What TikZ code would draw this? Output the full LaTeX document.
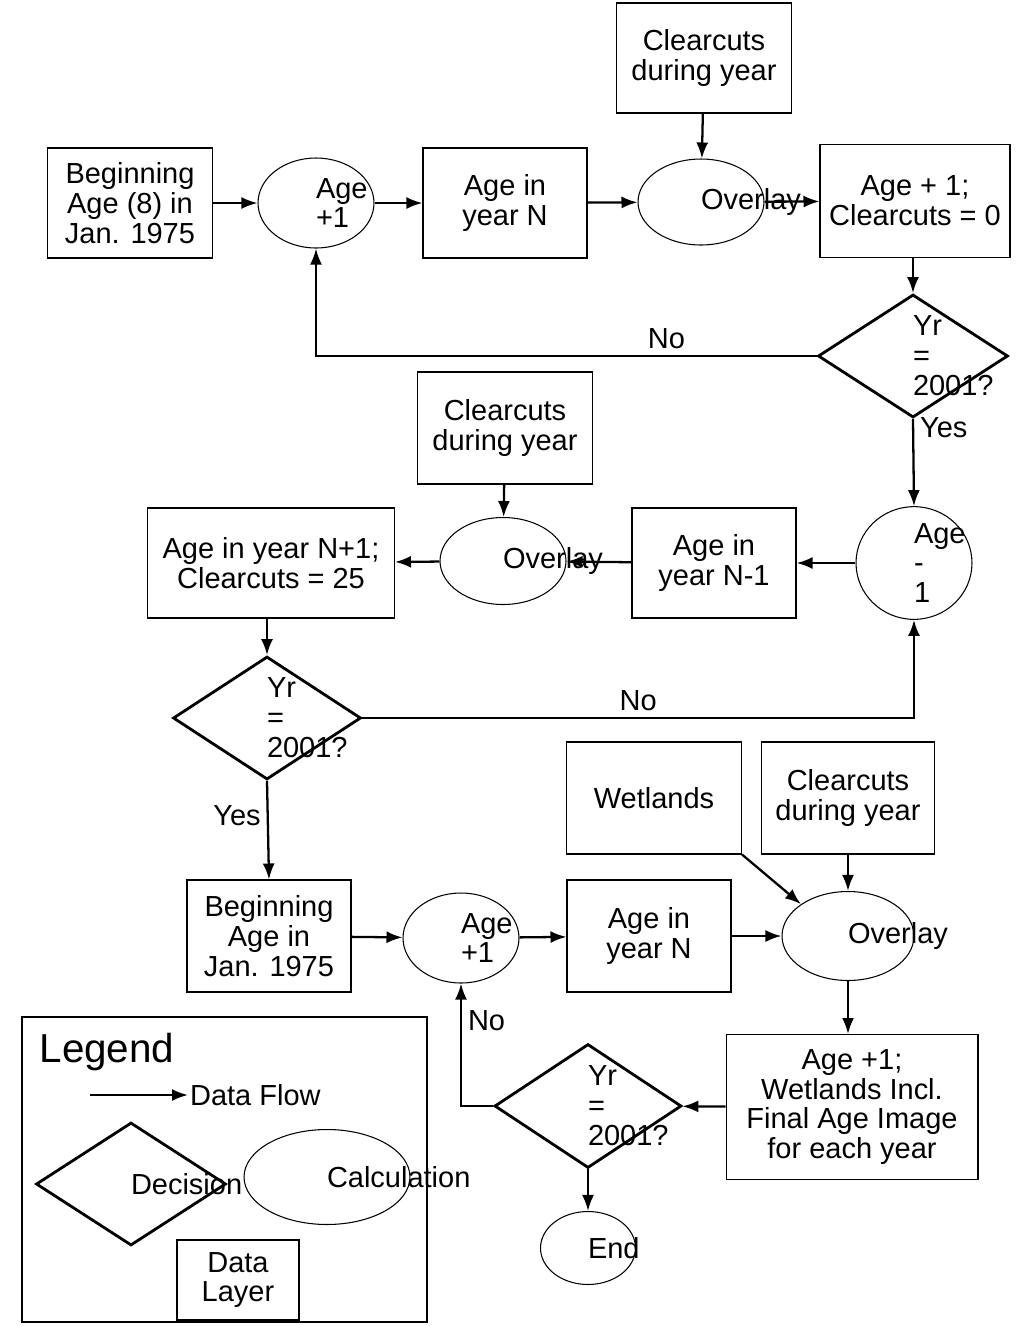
\documentclass[tikz,border=0pt]{standalone}
\usepackage{fontspec}
\setmainfont{Liberation Sans}
\usetikzlibrary{shapes.geometric,arrows.meta}
\begin{document}
\begin{tikzpicture}[x=0.02cm,y=-0.02cm,
font=\fontsize{16.5}{17}\selectfont,
flow/.style={line width=1.3pt, -{Latex[length=3.2mm,width=2.4mm]}},
layer/.style={rectangle, draw, line width=0.6pt, align=center, inner sep=0pt},
calc/.style={ellipse, draw, line width=0.6pt, align=center, text width=0pt, inner sep=0pt, minimum width=2.32cm, minimum height=1.8cm},
decision/.style={diamond, draw, line width=1.6pt, align=center, text width=0pt, inner sep=0pt, minimum width=3.8cm, minimum height=2.46cm},
]
\useasboundingbox (0,0) rectangle (1017,1326);
%Nodes
\node[layer, minimum width=3.5cm, minimum height=2.2cm] (clear1) at (704,58) {Clearcuts\\during year};
\node[layer, minimum width=3.3cm, minimum height=2.2cm] (begin1) at (130,203) {Beginning\\Age (8) in\\Jan. 1975};
\node[calc] (age1) at (316,203) {Age\\+1};
\node[layer, minimum width=3.28cm, minimum height=2.2cm] (year1) at (505,203) {Age in\\year N};
\node[calc, minimum width=2.52cm, minimum height=1.72cm] (over1) at (701,202) {Overlay};
\node[layer, minimum width=3.8cm, minimum height=2.26cm] (next1) at (915,201) {Age + 1;\\Clearcuts = 0};
\node[decision] (dec1) at (913,356) {Yr =\\2001?};
\node[layer, minimum width=3.5cm, minimum height=2.24cm] (clear2) at (505,428) {Clearcuts\\during year};
\node[calc] (back2) at (914,563) {Age\\-1};
\node[layer, minimum width=3.28cm, minimum height=2.2cm] (year2) at (714,563) {Age in\\year N-1};
\node[calc, minimum width=2.52cm, minimum height=1.74cm] (over2) at (503,561) {Overlay};
\node[layer, minimum width=4.94cm, minimum height=2.2cm] (next2) at (271,563) {Age in year N+1;\\Clearcuts = 25};
\node[decision, minimum width=3.76cm] (dec2) at (267,718) {Yr =\\2001?};
\node[layer, minimum width=3.5cm, minimum height=2.24cm] (wet) at (654,798) {Wetlands};
\node[layer, minimum width=3.46cm, minimum height=2.24cm] (clear3) at (848,798) {Clearcuts\\during year};
\node[layer, minimum width=3.28cm, minimum height=2.24cm] (begin3) at (269,936) {Beginning\\Age in\\Jan. 1975};
\node[calc] (age3) at (461,938) {Age\\+1};
\node[layer, minimum width=3.28cm, minimum height=2.24cm] (year3) at (649,936) {Age in\\year N};
\node[calc, minimum width=2.64cm, minimum height=1.78cm] (over3) at (848,936) {Overlay};
\node[layer, minimum width=5.04cm, minimum height=2.9cm] (final) at (852,1107) {Age +1;\\Wetlands Incl.\\Final Age Image\\for each year};
\node[decision, minimum width=3.74cm, minimum height=2.48cm] (dec3) at (588,1106) {Yr =\\2001?};
\node[calc, minimum width=1.9cm, minimum height=1.46cm] (end) at (588,1248) {End};
%Legend
\node[draw, line width=1.6pt, minimum width=8.1cm, minimum height=6.1cm] (legend) at (224.5,1169.5) {};
\node[font=\fontsize{23}{26}\selectfont] (legtitle) at (107,1052) {Legend};
\coordinate (flowA) at (90,1095);
\coordinate (flowB) at (188,1095);
\node[anchor=west, inner sep=1pt] (legflow) at (flowB) {Data Flow};
\node[decision] (legdec) at (131,1184) {Decision};
\node[calc, minimum width=3.32cm, minimum height=1.9cm] (legcalc) at (327,1177) {Calculation};
\node[layer, minimum width=2.44cm, minimum height=1.6cm] (leglayer) at (238,1280) {Data\\Layer};
%Lines
\draw[flow] (flowA) -- (flowB);
\draw[flow] (clear1) -- (over1);
\draw[flow] (begin1) -- (age1);
\draw[flow] (age1) -- (year1);
\draw[flow] (year1) -- (over1);
\draw[flow] (over1) -- (next1);
\draw[flow] (next1.south -| dec1.north) -- (dec1.north);
\draw[flow] (dec1.west) -- node[above, pos=0.3] {No} (dec1.west -| age1.south) -- (age1.south);
\draw[flow] (dec1.south) -- node[right, pos=0.1] {Yes} (back2.north);
\draw[flow] (clear2) -- (over2);
\draw[flow] (back2) -- (year2);
\draw[flow] (year2) -- (over2);
\draw[flow] (over2) -- (next2);
\draw[flow] (next2.south -| dec2.north) -- (dec2.north);
\draw[flow] (dec2.east) -- node[above, pos=0.5] {No} (dec2.east -| back2.south) -- (back2.south);
\draw[flow] (dec2.south) -- node[left, pos=0.35] {Yes} (begin3.north);
\draw[flow] (begin3) -- (age3);
\draw[flow] (age3) -- (year3);
\draw[flow] (year3) -- (over3);
\draw[flow] (wet.south east) -- (over3.north west);
\draw[flow] (clear3) -- (over3);
\draw[flow] (over3.south) -- (final.north -| over3.south);
\draw[flow] (final) -- (dec3);
\draw[flow] (dec3.west) -- (dec3.west -| age3.south) -- node[right, pos=0.7] {No} (age3.south);
\draw[flow] (dec3.south) -- (end);
\end{tikzpicture}
\end{document}
